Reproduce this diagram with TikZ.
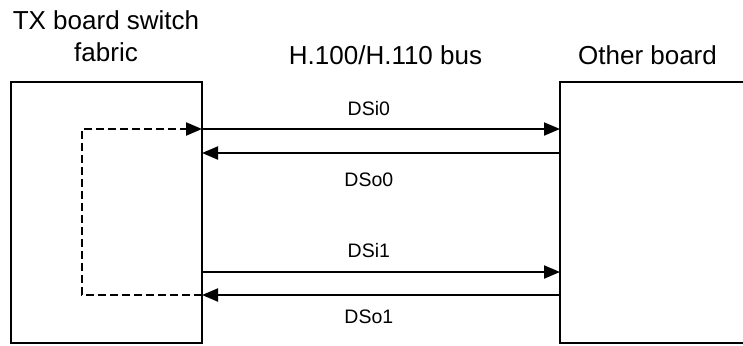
\documentclass[tikz,border=0pt]{standalone}
\usepackage{fontspec}
\setmainfont{Liberation Sans}
\usetikzlibrary{positioning, arrows.meta}

\begin{document}
\begin{tikzpicture}[
    x=0.5pt, y=-0.5pt,
    board/.style={draw, line width=1pt, inner sep=0pt, outer sep=0pt, minimum height=130.5pt},
    title/.style={font=\fontsize{13}{16}\selectfont, inner sep=0pt, align=center, anchor=base},
    sig/.style={font=\fontsize{9.75}{12}\selectfont, inner sep=0pt, anchor=base},
    arr/.style={-{Triangle[length=8pt, width=6.5pt]}, line width=1pt},
    loopback/.style={arr, line width=1.1pt, dash pattern=on 4pt off 2pt},
]
\useasboundingbox (0,0) rectangle (743,345);

% --- Boards ---
\node[board, minimum width=95.5pt] (fabric) at (106.5,212.5) {};
\node[board, minimum width=120pt, right=179pt of fabric] (other) {};

% --- Titles ---
\node[title] (fabrictitle) at (106,61) {TX board switch\\fabric};
\node[title] (bustitle) at (385.5,64) {H.100/H.110 bus};
\node[title] (othertitle) at (647.5,64) {Other board};

% --- Signal levels ---
\coordinate (lvl0) at (0,129);
\coordinate (lvl1) at (0,153);
\coordinate (lvl2) at (0,272);
\coordinate (lvl3) at (0,295);
\coordinate (turn) at (82,0);

% --- Bus arrows ---
\draw[arr] (fabric.east |- lvl0) -- (other.west |- lvl0)
    node[sig, pos=.466, yshift=6.8pt] (dsi0) {DSi0};
\draw[arr] (other.west |- lvl1) -- (fabric.east |- lvl1)
    node[sig, pos=.534, yshift=-16.5pt] (dso0) {DSo0};
\draw[arr] (fabric.east |- lvl2) -- (other.west |- lvl2)
    node[sig, pos=.466, yshift=7.5pt] (dsi1) {DSi1};
\draw[arr] (other.west |- lvl3) -- (fabric.east |- lvl3)
    node[sig, pos=.534, yshift=-14pt] (dso1) {DSo1};

% --- Loopback inside the fabric ---
\draw[loopback] (fabric.east |- lvl3) -| (turn |- lvl0) -- (fabric.east |- lvl0);

\end{tikzpicture}
\end{document}
